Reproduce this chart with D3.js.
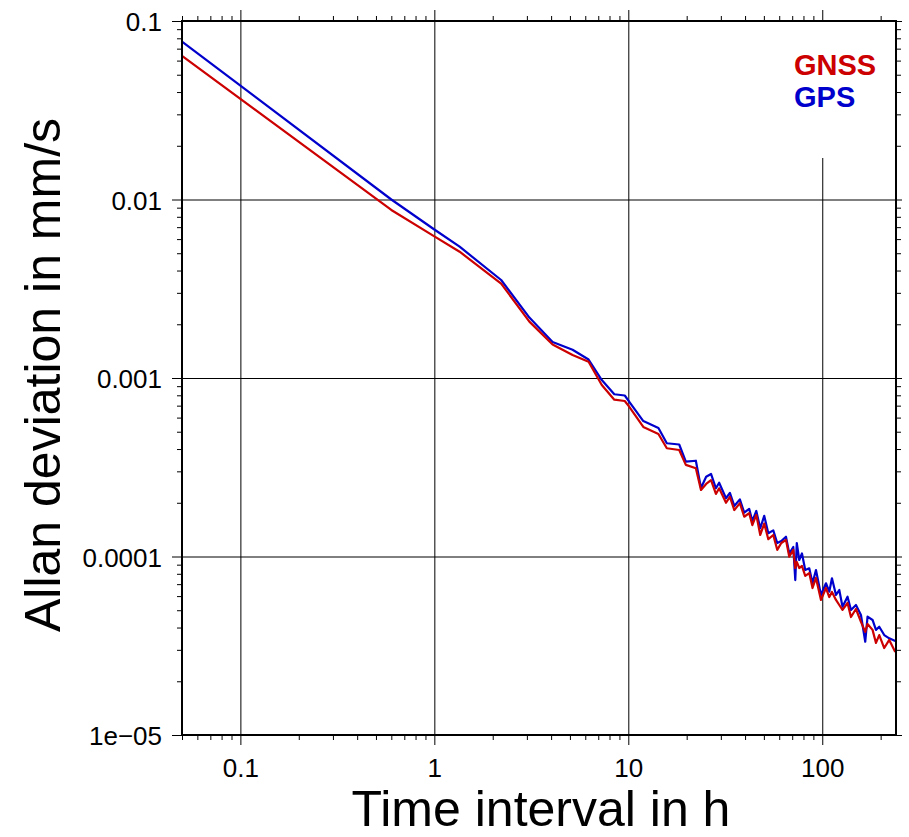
<!DOCTYPE html>
<html>
<head>
<meta charset="utf-8">
<script src="https://cdn.jsdelivr.net/npm/d3@7"></script>
<style>
  html, body { margin: 0; padding: 0; background: #fff; }
  svg { display: block; font-family: "Liberation Sans", Arial, Helvetica, sans-serif; }
</style>
</head>
<body>
<svg id="chart" width="909" height="837"></svg>
<script>
// ---- data ----
const tau = [0.05, 0.6, 1.0, 1.35, 2.21, 3.09, 4.07, 5.16, 6.24, 7.3, 8.47, 9.59, 10.1, 11.95, 14.3, 15.8, 18.3, 19.8, 22.3, 23.7,
  25.2, 26.7, 28.3, 29.4, 31.9, 33.4, 35.2, 37.6, 39.6, 42.0, 43.6, 45.7, 47.9, 50.2, 52.7, 55.9, 58.6, 61.5, 65.0, 67.6,
  70.9, 72.6, 73.9, 76.1, 78.6, 81.7, 85.7, 89.1, 92.8, 98.5, 104.5, 108.7, 112.2, 117.7, 122.4, 127.2, 135.0, 140.6, 149.2, 158.3,
  166.6, 171.2, 181.7, 189.2, 196.7, 208.7, 221.5, 237.9];

const gps = [0.0766, 0.0100, 0.00679, 0.00544, 0.00354, 0.00218, 0.00159, 0.00144, 0.00127, 0.000974, 0.000811, 0.000798, 0.000737, 0.000574, 0.000525, 0.000431, 0.000424, 0.000340, 0.000344, 0.000242,
  0.000280, 0.000290, 0.000241, 0.000259, 0.000212, 0.000227, 0.000192, 0.000209, 0.000176, 0.000185, 0.000158, 0.000180, 0.000144, 0.000169, 0.000135, 0.000140, 0.000119, 0.000122, 0.000129, 0.000104,
  0.000113, 0.0000738, 0.000119, 0.0000956, 0.000104, 0.0000840, 0.0000859, 0.0000708, 0.0000840, 0.0000609, 0.0000708, 0.0000635, 0.0000755, 0.0000609, 0.0000649, 0.0000523, 0.0000595, 0.0000502, 0.0000535, 0.0000470,
  0.0000333, 0.0000460, 0.0000441, 0.0000388, 0.0000404, 0.0000363, 0.0000348, 0.0000336];

const gnss = [0.0637, 0.00874, 0.00621, 0.00510, 0.00338, 0.00207, 0.00154, 0.001346, 0.001234, 0.000914, 0.000756, 0.000743, 0.000691, 0.000532, 0.000486, 0.000404, 0.000395, 0.000326, 0.000312, 0.000236,
  0.000255, 0.000268, 0.000224, 0.000241, 0.000200, 0.000216, 0.000182, 0.000199, 0.000167, 0.000175, 0.000150, 0.000171, 0.000132, 0.000153, 0.000125, 0.000132, 0.000109, 0.000119, 0.000124, 0.0000997,
  0.000109, 0.0000862, 0.0000932, 0.0000862, 0.0000885, 0.0000778, 0.0000808, 0.0000666, 0.0000758, 0.0000571, 0.0000666, 0.0000593, 0.0000633, 0.0000571, 0.0000535, 0.0000502, 0.0000549, 0.0000458, 0.0000508, 0.0000430,
  0.0000378, 0.0000419, 0.0000388, 0.0000328, 0.0000363, 0.0000307, 0.0000341, 0.0000292];

const seriesNames = ["GNSS", "GPS"];
const seriesColors = ["#cc0000", "#0000cc"];

const xTickValues = [0.1, 1, 10, 100];
const xTickLabels = ["0.1", "1", "10", "100"];
const yTickValues = [1e-5, 1e-4, 1e-3, 1e-2, 1e-1];
const yTickLabels = ["1e\u221205", "0.0001", "0.001", "0.01", "0.1"];

const xTitle = "Time interval in h";
const yTitle = "Allan deviation in mm/s";

// ---- layout ----
const L = 182, R = 896, T = 21, B = 735;
const svg = d3.select("#chart");

const x = d3.scaleLog().domain([0.05, 240]).range([L, R]);
const y = d3.scaleLog().domain([1e-5, 0.1]).range([B, T]);

const xMinor = x.ticks().filter(v => !xTickValues.includes(v));
const yMinor = y.ticks().filter(v => !yTickValues.some(t => Math.abs(t - v) / v < 1e-9));

// grid
svg.append("g").attr("transform", `translate(0,${B})`)
  .call(d3.axisBottom(x).tickValues(xTickValues).tickSize(-(B - T)).tickFormat(""))
  .call(g => g.select(".domain").remove())
  .selectAll("line").attr("stroke", "#000").attr("stroke-width", 1);
svg.append("g").attr("transform", `translate(${L},0)`)
  .call(d3.axisLeft(y).tickValues([1e-4, 1e-3, 1e-2]).tickSize(-(R - L)).tickFormat(""))
  .call(g => g.select(".domain").remove())
  .selectAll("line").attr("stroke", "#000").attr("stroke-width", 1);

// legend background box
svg.append("rect").attr("x", 776).attr("y", T + 1).attr("width", R - 776 - 1).attr("height", 158 - T - 1).attr("fill", "#fff");

// clip
svg.append("clipPath").attr("id", "clip").append("rect")
  .attr("x", L).attr("y", T).attr("width", R - L).attr("height", B - T);

const line = d3.line().x(d => x(d[0])).y(d => y(d[1]));
const plot = svg.append("g").attr("clip-path", "url(#clip)");
plot.append("path").datum(tau.map((t, i) => [t, gps[i]]))
  .attr("d", line).attr("fill", "none").attr("stroke", seriesColors[1]).attr("stroke-width", 2.2).attr("stroke-linejoin", "round");
plot.append("path").datum(tau.map((t, i) => [t, gnss[i]]))
  .attr("d", line).attr("fill", "none").attr("stroke", seriesColors[0]).attr("stroke-width", 2.2).attr("stroke-linejoin", "round");

// axes ticks
function styleAxis(g) {
  g.select(".domain").remove();
  g.selectAll("line").attr("stroke", "#000").attr("stroke-width", 1);
}
// bottom
svg.append("g").attr("transform", `translate(0,${B})`)
  .call(d3.axisBottom(x).tickValues(xMinor).tickSize(5).tickFormat("")).call(styleAxis);
const xb = svg.append("g").attr("transform", `translate(0,${B})`)
  .call(d3.axisBottom(x).tickValues(xTickValues).tickSize(10).tickPadding(14).tickFormat((d, i) => xTickLabels[i]))
  .call(styleAxis);
xb.selectAll("text").attr("font-size", 26).attr("fill", "#000").attr("font-family", "Liberation Sans, Arial, sans-serif");
// top
svg.append("g").attr("transform", `translate(0,${T})`)
  .call(d3.axisTop(x).tickValues(xMinor).tickSize(5).tickFormat("")).call(styleAxis);
svg.append("g").attr("transform", `translate(0,${T})`)
  .call(d3.axisTop(x).tickValues(xTickValues).tickSize(11).tickFormat("")).call(styleAxis);
// left
svg.append("g").attr("transform", `translate(${L},0)`)
  .call(d3.axisLeft(y).tickValues(yMinor).tickSize(5).tickFormat("")).call(styleAxis);
const yl = svg.append("g").attr("transform", `translate(${L},0)`)
  .call(d3.axisLeft(y).tickValues(yTickValues).tickSize(10).tickPadding(10).tickFormat((d, i) => yTickLabels[i]))
  .call(styleAxis);
yl.selectAll("text").attr("font-size", 26).attr("fill", "#000").attr("dy", "0.38em").attr("font-family", "Liberation Sans, Arial, sans-serif");
// right
svg.append("g").attr("transform", `translate(${R},0)`)
  .call(d3.axisRight(y).tickValues(yMinor).tickSize(5).tickFormat("")).call(styleAxis);
svg.append("g").attr("transform", `translate(${R},0)`)
  .call(d3.axisRight(y).tickValues(yTickValues).tickSize(6).tickFormat("")).call(styleAxis);

// frame
svg.append("rect").attr("x", L).attr("y", T).attr("width", R - L).attr("height", B - T)
  .attr("fill", "none").attr("stroke", "#000").attr("stroke-width", 2);

// titles
svg.append("text").attr("x", (L + R) / 2 + 2).attr("y", 826).attr("text-anchor", "middle")
  .attr("font-size", 50).attr("fill", "#000").text(xTitle);
svg.append("text").attr("transform", `translate(60,${(T + B) / 2 - 3}) rotate(-90)`).attr("text-anchor", "middle")
  .attr("font-size", 50).attr("fill", "#000").text(yTitle);

// legend
const leg = svg.append("g");
seriesNames.forEach((n, i) => {
  leg.append("text").attr("x", 794).attr("y", 75 + i * 32).attr("font-size", 29).attr("font-weight", "bold")
    .attr("fill", seriesColors[i]).text(n);
});
</script>
</body>
</html>
